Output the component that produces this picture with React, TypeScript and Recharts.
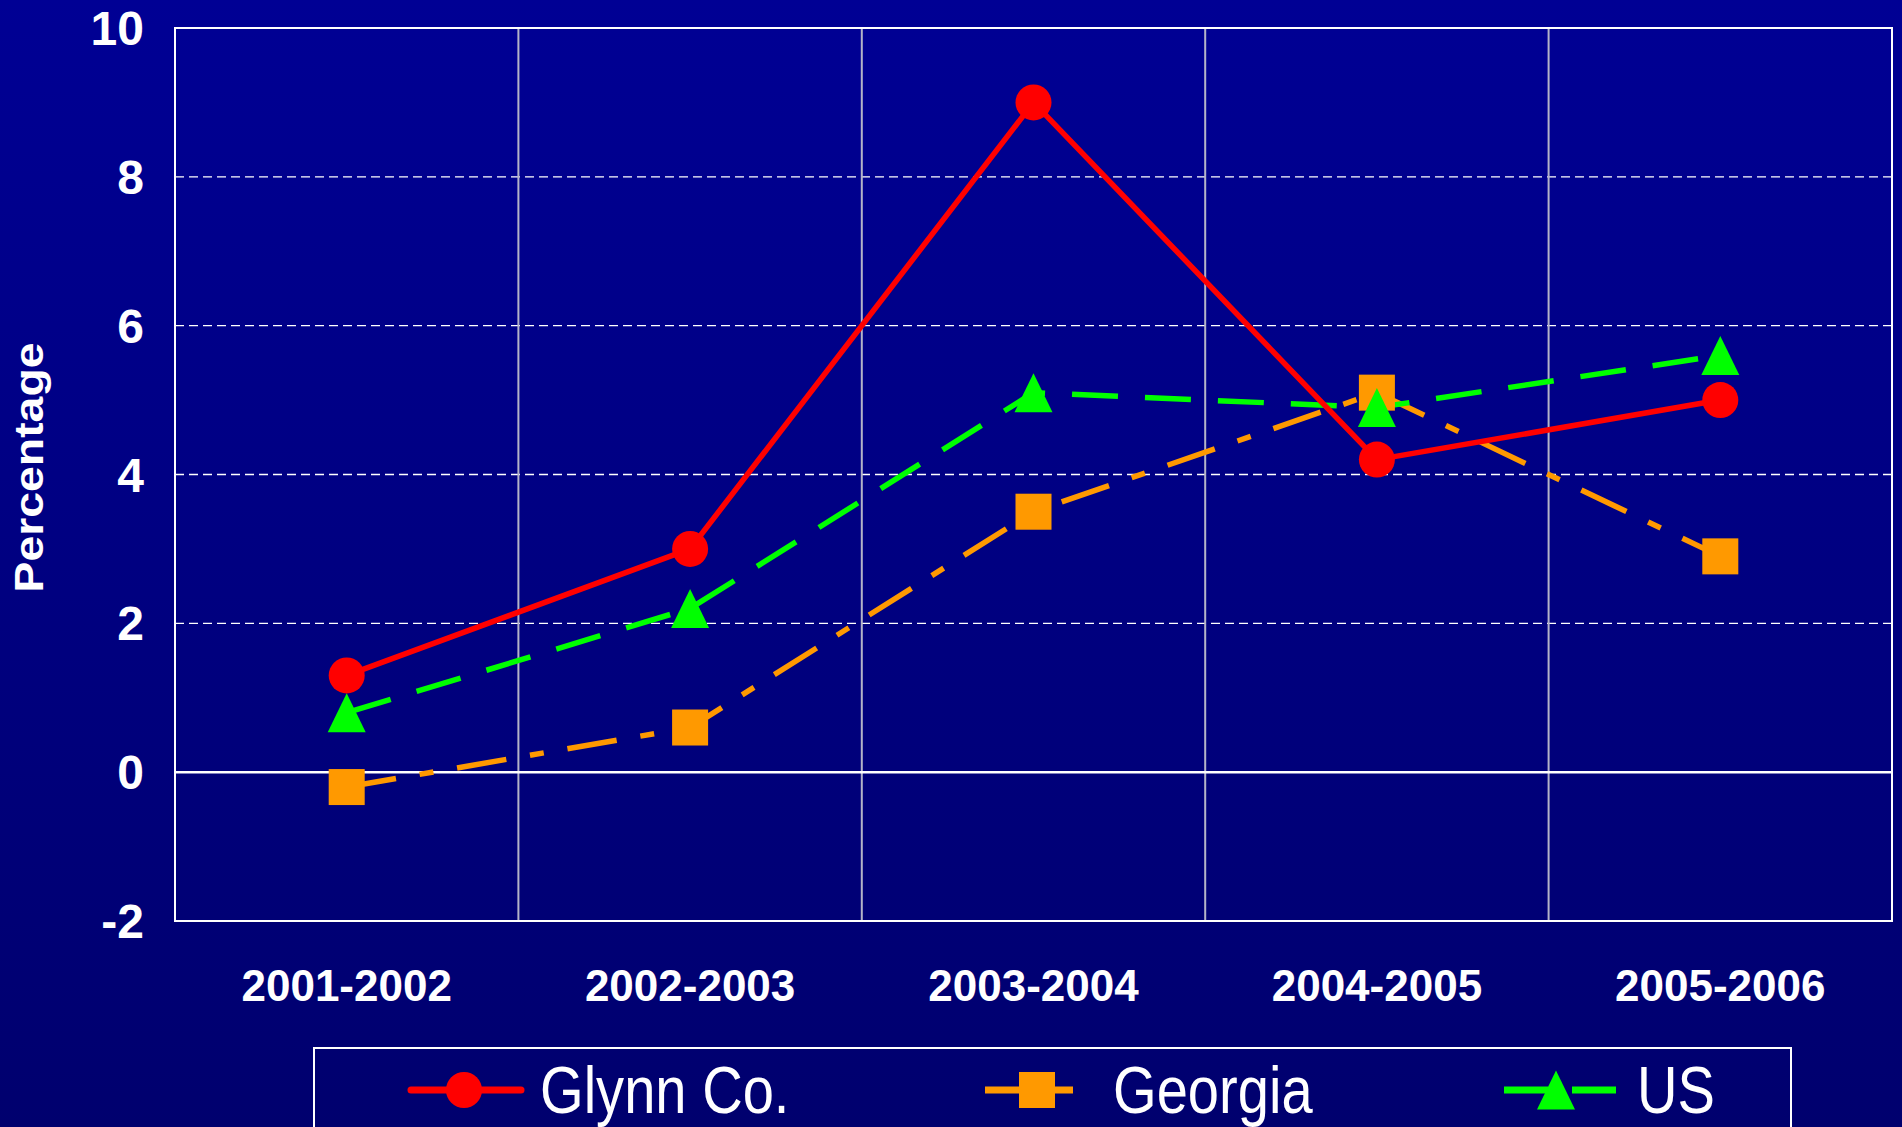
import React from 'react';
import { LineChart, Line, XAxis, YAxis, CartesianGrid, ReferenceLine, ReferenceArea, Legend } from 'recharts';

const categories = ['2001-2002', '2002-2003', '2003-2004', '2004-2005', '2005-2006'];
const glynnValues = [1.3, 3.0, 9.0, 4.2, 5.0];
const georgiaValues = [-0.2, 0.6, 3.5, 5.1, 2.9];
const usValues = [0.8, 2.2, 5.1, 4.9, 5.6];
const yTicks = [-2, 0, 2, 4, 6, 8, 10];

const data = categories.map((period, i) => ({
  period,
  glynn: glynnValues[i],
  georgia: georgiaValues[i],
  us: usValues[i],
}));

type Shape = 'circle' | 'square' | 'triangle';

const SERIES: Array<{ key: string; name: string; color: string; dash?: string; shape: Shape }> = [
  { key: 'glynn', name: 'Glynn Co.', color: '#FF0000', shape: 'circle' },
  { key: 'georgia', name: 'Georgia', color: '#FF9900', dash: '50 24 14 24', shape: 'square' },
  { key: 'us', name: 'US', color: '#00FF00', dash: '46 27', shape: 'triangle' },
];

const FONT = '"Liberation Sans", Arial, sans-serif';

const Marker = ({ shape, cx, cy, color }: { shape: Shape; cx: number; cy: number; color: string }) => {
  if (shape === 'circle') return <circle cx={cx} cy={cy} r={18} fill={color} />;
  if (shape === 'square') return <rect x={cx - 18} y={cy - 18} width={36} height={36} fill={color} />;
  return <polygon points={`${cx},${cy - 19.5} ${cx + 19},${cy + 19.5} ${cx - 19},${cy + 19.5}`} fill={color} />;
};

const makeDot = (shape: Shape, color: string) => (props: any) => {
  const { cx, cy, index } = props;
  if (cx == null || cy == null) return <g key={`e-${index}`} />;
  return (
    <g key={`${shape}-${index}`}>
      <Marker shape={shape} cx={cx} cy={cy} color={color} />
    </g>
  );
};

const renderYLabel = (props: any) => {
  const vb = props.viewBox || { y: 0, height: 0 };
  const x = 43;
  const y = vb.y + vb.height / 2 - 7;
  return (
    <text
      x={x}
      y={y}
      transform={`rotate(-90, ${x}, ${y})`}
      textAnchor="middle"
      fill="#fff"
      fontFamily={FONT}
      fontSize={40}
      fontWeight="bold"
      textLength={250}
      lengthAdjust="spacingAndGlyphs"
    >
      Percentage
    </text>
  );
};

// legend: each icon is a short line with the series marker, then the name
const itemWidths = [578, 519, undefined];

const LegendBox = () => (
  <div
    style={{
      boxSizing: 'border-box',
      width: '100%',
      height: '100%',
      border: '2px solid #fff',
      display: 'flex',
      alignItems: 'flex-start',
      paddingLeft: 92,
      paddingTop: 6,
    }}
  >
    {SERIES.map((s, i) => (
      <div key={s.key} style={{ display: 'flex', alignItems: 'center', width: itemWidths[i], flexShrink: 0 }}>
        <svg width={118} height={70} style={{ display: 'block', flexShrink: 0 }}>
          {s.shape === 'circle' && (
            <line x1={4} y1={35} x2={114} y2={35} stroke={s.color} strokeWidth={7} strokeLinecap="round" />
          )}
          {s.shape === 'square' && <line x1={0} y1={35} x2={88} y2={35} stroke={s.color} strokeWidth={7} />}
          {s.shape === 'triangle' && (
            <line x1={0} y1={35} x2={112} y2={35} stroke={s.color} strokeWidth={7} strokeDasharray="44 24" />
          )}
          <Marker shape={s.shape} cx={s.shape === 'circle' ? 57 : 52} cy={35} color={s.color} />
        </svg>
        <span
          style={{
            display: 'inline-block',
            marginLeft: s.shape === 'square' ? 10 : 15,
            fontFamily: '"Liberation Sans Narrow", "Arial Narrow", "Liberation Sans", sans-serif',
            fontSize: 66,
            lineHeight: '70px',
            color: '#fff',
            whiteSpace: 'nowrap',
            transform: 'scaleX(0.85)',
            transformOrigin: 'left center',
          }}
        >
          {s.name}
        </span>
      </div>
    ))}
  </div>
);

export default function App() {
  const drawOrder = ['georgia', 'us', 'glynn'];
  return (
    <div
      style={{
        position: 'absolute',
        left: 0,
        top: 0,
        width: 1902,
        height: 1127,
        overflow: 'hidden',
        background: 'linear-gradient(to bottom, #000094 0%, #00006E 100%)',
      }}
    >
      <LineChart width={1902} height={1127} data={data} margin={{ top: 28, right: 10, bottom: 0, left: 0 }}>
        <CartesianGrid vertical={false} stroke="#ffffff" strokeWidth={1.3} strokeDasharray="9 5" />
        <CartesianGrid
          horizontal={false}
          stroke="#b4b4c8"
          strokeWidth={2}
          verticalCoordinatesGenerator={({ offset }: any) =>
            categories.slice(1).map((_, i) => offset.left + (offset.width * (i + 1)) / categories.length)
          }
        />
        <XAxis
          dataKey="period"
          scale="band"
          height={206}
          axisLine={false}
          tickLine={false}
          tickSize={0}
          tickMargin={49}
          interval={0}
          tick={{ fill: '#fff', fontSize: 44, fontWeight: 'bold', fontFamily: FONT }}
        />
        <YAxis
          domain={[-2, 10]}
          ticks={yTicks}
          interval={0}
          width={175}
          axisLine={{ stroke: '#fff', strokeWidth: 2 }}
          tickLine={false}
          tickSize={0}
          tickMargin={31}
          tick={{ fill: '#fff', fontSize: 48, fontWeight: 'bold', fontFamily: FONT }}
          label={renderYLabel}
        />
        <YAxis
          yAxisId="inner"
          mirror
          width={0}
          domain={[-2, 10]}
          ticks={yTicks}
          interval={0}
          axisLine={false}
          tick={false}
          tickSize={15}
          tickLine={{ stroke: '#c8c8d8', strokeWidth: 2 }}
        />
        <ReferenceArea y1={-2} y2={10} fill="none" stroke="#fff" strokeWidth={2} ifOverflow="extendDomain" />
        <ReferenceLine y={0} stroke="#fff" strokeWidth={2.5} />
        {drawOrder.map((k) => {
          const s = SERIES.find((x) => x.key === k)!;
          return (
            <Line
              key={s.key}
              type="linear"
              dataKey={s.key}
              name={s.name}
              stroke={s.color}
              strokeWidth={5.5}
              strokeDasharray={s.dash}
              dot={makeDot(s.shape, s.color)}
              activeDot={false}
              isAnimationActive={false}
            />
          );
        })}
        <Legend
          layout="horizontal"
          verticalAlign="middle"
          align="center"
          content={<LegendBox />}
          wrapperStyle={{ left: 313, top: 1047, width: 1479, height: 110 }}
        />
      </LineChart>
    </div>
  );
}
